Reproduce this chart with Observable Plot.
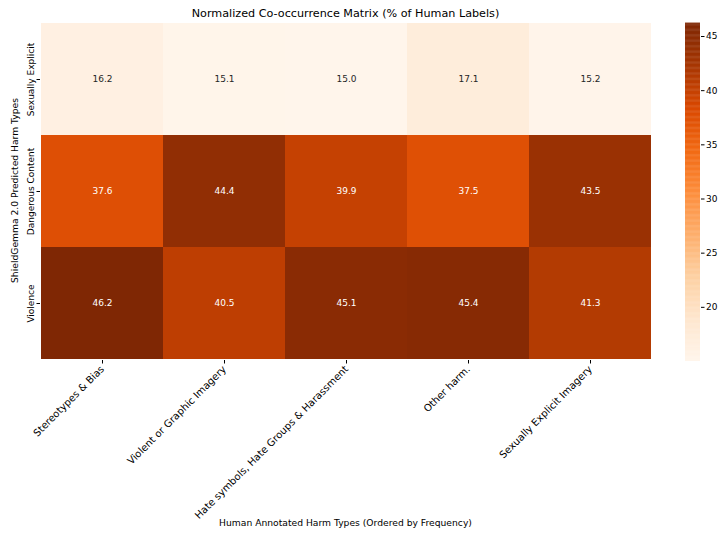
<!DOCTYPE html>
<html><head><meta charset="utf-8">
<script src="https://cdn.jsdelivr.net/npm/d3@7"></script>
<script src="https://cdn.jsdelivr.net/npm/@observablehq/plot@0.6"></script>
<style>
body{margin:0;background:#fff;}
#wrap{position:relative;width:722px;height:533px;font-family:"DejaVu Sans",sans-serif;color:#000;}
#title{position:absolute;top:7px;left:40px;width:611px;text-align:center;font-size:11.2px;}
#xlabel{position:absolute;top:517px;left:40px;width:611px;text-align:center;font-size:9.2px;}
#ylabel{position:absolute;left:14px;top:191px;width:300px;margin-left:-150px;margin-top:-6px;text-align:center;font-size:9.2px;transform:rotate(-90deg);}
#main,#cbar{position:absolute;top:0;}
#main{left:0;}
#cbar{left:685px;}
</style></head><body>
<div id="wrap">
<div id="main"></div><div id="cbar"></div>
<div id="title">Normalized Co-occurrence Matrix (% of Human Labels)</div>
<div id="xlabel">Human Annotated Harm Types (Ordered by Frequency)</div>
<div id="ylabel">ShieldGemma 2.0 Predicted Harm Types</div>
</div>
<script>
const columns = ["Stereotypes & Bias", "Violent or Graphic Imagery", "Hate symbols, Hate Groups & Harassment", "Other harm.", "Sexually Explicit Imagery"];
const rows = ["Sexually Explicit", "Dangerous Content", "Violence"];
const sexuallyExplicit = [16.2, 15.1, 15.0, 17.1, 15.2];
const dangerousContent = [37.6, 44.4, 39.9, 37.5, 43.5];
const violence = [46.2, 40.5, 45.1, 45.4, 41.3];
const colorTicks = [20, 25, 30, 35, 40, 45];
const colorDomain = [15.0, 46.2];
const orangesStops = ["#fff5eb","#fee6ce","#fdd0a2","#fdae6b","#fd8d3c","#f16913","#d94801","#a63603","#7f2704"];

const seriesByRow = [sexuallyExplicit, dangerousContent, violence];
const data = [];
rows.forEach((r, i) => columns.forEach((c, j) => data.push({row: r, col: c, value: seriesByRow[i][j]})));

const colorScale = {type: "linear", domain: colorDomain, interpolate: d3.piecewise(d3.interpolateRgb, orangesStops)};
const font = {fontFamily: "DejaVu Sans, sans-serif", fontSize: "9px", color: "#000", background: "transparent"};

const main = Plot.plot({
  width: 722, height: 533,
  marginLeft: 40, marginRight: 71, marginTop: 22, marginBottom: 173,
  style: font,
  x: {domain: columns, padding: 0, label: null},
  y: {domain: rows, padding: 0, label: null},
  color: colorScale,
  marks: [
    Plot.cell(data, {x: "col", y: "row", fill: "value"}),
    Plot.text(data, {x: "col", y: "row", text: d => d.value.toFixed(1), fill: d => d.value > 30 ? "#ffffff" : "#262626", fontSize: 9}),
    Plot.axisX({tickRotate: -45, tickSize: 3.5, tickPadding: 3.5, label: null, fontSize: 10}),
    Plot.axisY({tickRotate: -90, tickSize: 3.5, tickPadding: 3, label: null, fontSize: 9})
  ]
});
document.getElementById("main").appendChild(main);

// colorbar
const n = 400;
const step = (colorDomain[1] - colorDomain[0]) / n;
const stops = d3.range(n).map(i => ({v0: colorDomain[0] + i * step, v1: colorDomain[0] + (i + 1) * step}));
const cbar = Plot.plot({
  width: 37, height: 533,
  marginLeft: 0, marginRight: 22, marginTop: 23, marginBottom: 172,
  style: font,
  x: {domain: [0, 1], axis: null},
  y: {domain: colorDomain, label: null},
  color: colorScale,
  marks: [
    Plot.rect(stops, {x1: 0, x2: 1, y1: "v0", y2: d => d.v1 + step * 0.5, fill: d => (d.v0 + d.v1) / 2}),
    Plot.axisY({anchor: "right", ticks: colorTicks, tickSize: 3.5, tickPadding: 2, label: null, fontSize: 9})
  ]
});
document.getElementById("cbar").appendChild(cbar);
</script>
</body></html>
